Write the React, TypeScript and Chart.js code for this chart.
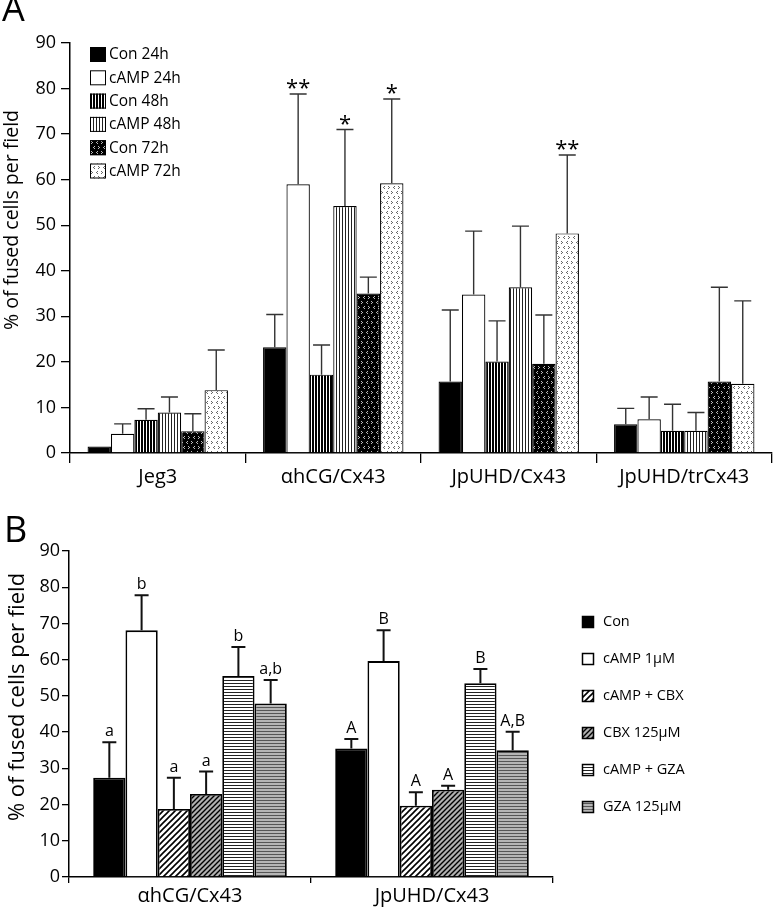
import React, { useEffect, useRef } from "react";
import { Chart, registerables } from "chart.js";
Chart.register(...registerables);

const FONT = "'Open Sans', sans-serif";

// ---------- Panel A data ----------
const catsA = ["Jeg3", "\u03b1hCG/Cx43", "JpUHD/Cx43", "JpUHD/trCx43"];
const seriesA = ["Con 24h", "cAMP 24h", "Con 48h", "cAMP 48h", "Con 72h", "cAMP 72h"];
const con24 = [1.4, 23.2, 15.7, 6.3];
const con24Top = [1.4, 30.4, 31.4, 9.8];
const camp24 = [4.2, 59.0, 34.8, 7.4];
const camp24Top = [6.4, 78.8, 48.7, 12.3];
const con48 = [7.3, 17.2, 20.1, 4.9];
const con48Top = [9.7, 23.7, 29.0, 10.7];
const camp48 = [8.9, 54.2, 36.4, 4.9];
const camp48Top = [12.3, 71.0, 49.8, 8.9];
const con72 = [4.8, 35.0, 19.6, 15.7];
const con72Top = [8.6, 38.6, 30.3, 36.4];
const camp72 = [13.8, 59.2, 48.2, 15.2];
const camp72Top = [22.6, 77.7, 65.4, 33.4];
const con24Marks = ["", "", "", ""];
const camp24Marks = ["", "**", "", ""];
const con48Marks = ["", "", "", ""];
const camp48Marks = ["", "*", "", ""];
const con72Marks = ["", "", "", ""];
const camp72Marks = ["", "*", "**", ""];
const yTicksA = [0, 10, 20, 30, 40, 50, 60, 70, 80, 90];

// ---------- Panel B data ----------
const catsB = ["\u03b1hCG/Cx43", "JpUHD/Cx43"];
const seriesB = ["Con", "cAMP 1\u03bcM", "cAMP + CBX", "CBX 125\u03bcM", "cAMP + GZA", "GZA 125\u03bcM"];
const conB = [27.4, 35.5];
const conBTop = [37.2, 38.1];
const campB = [68.1, 59.6];
const campBTop = [77.8, 68.1];
const campCbxB = [18.8, 19.7];
const campCbxBTop = [27.4, 23.4];
const cbxB = [22.9, 24.1];
const cbxBTop = [29.1, 25.2];
const campGzaB = [55.5, 53.5];
const campGzaBTop = [63.5, 57.4];
const gzaB = [47.9, 35.0];
const gzaBTop = [54.4, 40.1];
const conBMarks = ["a", "A"];
const campBMarks = ["b", "B"];
const campCbxBMarks = ["a", "A"];
const cbxBMarks = ["a", "A"];
const campGzaBMarks = ["b", "B"];
const gzaBMarks = ["a,b", "A,B"];
const yTicksB = [0, 10, 20, 30, 40, 50, 60, 70, 80, 90];

// ---------- patterns ----------
function makePattern(w: number, h: number, draw: (c: CanvasRenderingContext2D) => void): CanvasPattern | string {
  const c = document.createElement("canvas");
  c.width = w;
  c.height = h;
  const x = c.getContext("2d")!;
  draw(x);
  return x.createPattern(c, "repeat") || "#888";
}

function chev(x: CanvasRenderingContext2D, px: number, py: number, right: boolean) {
  if (right) {
    x.fillRect(px, py, 1, 1);
    x.fillRect(px + 1, py + 1, 1, 1);
    x.fillRect(px, py + 2, 1, 1);
  } else {
    x.fillRect(px + 1, py, 1, 1);
    x.fillRect(px, py + 1, 1, 1);
    x.fillRect(px + 1, py + 2, 1, 1);
  }
}

function buildPatterns() {
  const vDark = makePattern(3, 4, (x) => {
    x.fillStyle = "#000";
    x.fillRect(0, 0, 3, 4);
    x.fillStyle = "#fff";
    x.fillRect(2, 0, 1, 4);
  });
  const vLight = makePattern(3, 4, (x) => {
    x.fillStyle = "#fff";
    x.fillRect(0, 0, 3, 4);
    x.fillStyle = "#222";
    x.fillRect(0, 0, 1, 4);
  });
  const dotsDark = makePattern(10, 10, (x) => {
    x.fillStyle = "#000";
    x.fillRect(0, 0, 10, 10);
    x.fillStyle = "#bbb";
    chev(x, 1, 1, true);
    chev(x, 6, 1, false);
    chev(x, 3, 6, false);
    chev(x, 8, 6, true);
  });
  const dotsLight = makePattern(10, 10, (x) => {
    x.fillStyle = "#fff";
    x.fillRect(0, 0, 10, 10);
    x.fillStyle = "#666";
    chev(x, 1, 1, true);
    chev(x, 6, 1, false);
    chev(x, 3, 6, false);
    chev(x, 8, 6, true);
  });
  const diag = (bg: string, n: number, lw: number) =>
    makePattern(n, n, (x) => {
      x.fillStyle = bg;
      x.fillRect(0, 0, n, n);
      x.strokeStyle = "#000";
      x.lineWidth = lw;
      x.beginPath();
      x.moveTo(-1, n + 1);
      x.lineTo(n + 1, -1);
      x.moveTo(-2, 2);
      x.lineTo(2, -2);
      x.moveTo(n - 2, n + 2);
      x.lineTo(n + 2, n - 2);
      x.stroke();
    });
  const horiz = (bg: string, fg: string) =>
    makePattern(4, 3, (x) => {
      x.fillStyle = bg;
      x.fillRect(0, 0, 4, 3);
      x.fillStyle = fg;
      x.fillRect(0, 0, 4, 1);
    });
  return {
    a: ["#000", "#fff", vDark, vLight, dotsDark, dotsLight],
    b: ["#000", "#fff", diag("#fff", 6, 1.6), diag("#b0b0b0", 5, 1.4), horiz("#fff", "#222"), horiz("#b5b5b5", "#555")],
  };
}

type PanelCfg = {
  cats: string[];
  series: string[];
  values: number[][];
  tops: number[][];
  marks: string[][];
  yTicks: number[];
  fills: (string | CanvasPattern)[];
  yAxisW: number;
  xAxisH: number;
  padTop: number;
  padRight: number;
  tickLenY: number;
  tickPadY: number;
  tickLenX: number;
  tickPadX: number;
  catFont: number;
  capW: number;
  errW: number;
  errColor: string;
  borderW: number;
  markFont: string;
  markOffset: number;
  decorate: (ctx: CanvasRenderingContext2D, fills: (string | CanvasPattern)[]) => void;
};

function makeChart(canvas: HTMLCanvasElement, p: PanelCfg) {
  const errPlugin = {
    id: "errbars",
    afterDatasetsDraw(chart: any) {
      const ctx: CanvasRenderingContext2D = chart.ctx;
      const ys = chart.scales.y;
      ctx.save();
      chart.data.datasets.forEach((ds: any, di: number) => {
        const meta = chart.getDatasetMeta(di);
        meta.data.forEach((bar: any, i: number) => {
          const v = ds.data[i];
          const t = p.tops[di][i];
          const x = bar.x;
          const yb = ys.getPixelForValue(v);
          const yt = ys.getPixelForValue(t);
          if (t > v) {
            ctx.strokeStyle = p.errColor;
            ctx.lineWidth = p.errW;
            ctx.beginPath();
            ctx.moveTo(x, yb);
            ctx.lineTo(x, yt);
            ctx.moveTo(x - p.capW / 2, yt);
            ctx.lineTo(x + p.capW / 2, yt);
            ctx.stroke();
          }
          const m = p.marks[di][i];
          if (m) {
            ctx.fillStyle = "#000";
            ctx.font = p.markFont;
            ctx.textAlign = "center";
            ctx.textBaseline = "alphabetic";
            ctx.fillText(m, x, yt + p.markOffset);
          }
        });
      });
      ctx.restore();
    },
    afterDraw(chart: any) {
      const ctx: CanvasRenderingContext2D = chart.ctx;
      ctx.save();
      p.decorate(ctx, p.fills);
      ctx.restore();
    },
  };

  return new Chart(canvas, {
    type: "bar",
    data: {
      labels: p.cats,
      datasets: p.series.map((s, i) => ({
        label: s,
        data: p.values[i],
        backgroundColor: p.fills[i] as any,
        borderColor: "#000",
        borderWidth: p.borderW,
        borderSkipped: "start",
        barPercentage: 1,
        categoryPercentage: 0.8,
      })),
    },
    options: {
      animation: false,
      responsive: false,
      maintainAspectRatio: false,
      devicePixelRatio: 1,
      layout: { padding: { top: p.padTop, right: p.padRight, left: 0, bottom: 0 } },
      plugins: { legend: { display: false }, tooltip: { enabled: false }, title: { display: false } },
      scales: {
        x: {
          type: "category",
          offset: true,
          grid: {
            offset: true,
            drawOnChartArea: false,
            drawTicks: true,
            tickLength: p.tickLenX,
            color: "#000",
            lineWidth: 1.3,
          },
          border: { display: true, color: "#000", width: 1.5 },
          ticks: { color: "#000", font: { family: FONT, size: p.catFont }, padding: p.tickPadX, maxRotation: 0 },
          afterFit: (s: any) => {
            s.height = p.xAxisH;
          },
        },
        y: {
          min: 0,
          max: 90,
          afterBuildTicks: (s: any) => {
            s.ticks = p.yTicks.map((v) => ({ value: v }));
          },
          grid: {
            drawOnChartArea: false,
            drawTicks: true,
            tickLength: p.tickLenY,
            color: "#000",
            lineWidth: 1.3,
          },
          border: { display: true, color: "#000", width: 1.5 },
          ticks: { color: "#000", font: { family: FONT, size: 18 }, padding: p.tickPadY },
          afterFit: (s: any) => {
            s.width = p.yAxisW;
          },
        },
      },
    } as any,
    plugins: [errPlugin as any],
  });
}

export default function App() {
  const refA = useRef<HTMLCanvasElement>(null);
  const refB = useRef<HTMLCanvasElement>(null);

  useEffect(() => {
    const pats = buildPatterns();
    const chartA = makeChart(refA.current!, {
      cats: catsA,
      series: seriesA,
      values: [con24, camp24, con48, camp48, con72, camp72],
      tops: [con24Top, camp24Top, con48Top, camp48Top, con72Top, camp72Top],
      marks: [con24Marks, camp24Marks, con48Marks, camp48Marks, con72Marks, camp72Marks],
      yTicks: yTicksA,
      fills: pats.a,
      yAxisW: 70,
      xAxisH: 47,
      padTop: 43,
      padRight: 2,
      tickLenY: 9,
      tickPadY: 5,
      tickLenX: 10,
      tickPadX: 2,
      catFont: 20,
      capW: 17,
      errW: 1.4,
      errColor: "#333",
      borderW: 1.2,
      markFont: `22px ${FONT}`,
      markOffset: 1,
      decorate: (ctx, fills) => {
        ctx.fillStyle = "#000";
        ctx.font = `36px ${FONT}`;
        ctx.textAlign = "left";
        ctx.textBaseline = "alphabetic";
        ctx.fillText("A", 2, 21);
        ctx.save();
        ctx.translate(12, 220);
        ctx.rotate(-Math.PI / 2);
        ctx.font = `19.5px ${FONT}`;
        ctx.textAlign = "center";
        ctx.textBaseline = "middle";
        ctx.fillText("% of fused cells per field", 0, 0);
        ctx.restore();
        seriesA.forEach((s, i) => {
          const y0 = 47 + i * 23.3;
          ctx.fillStyle = fills[i] as any;
          ctx.fillRect(90, y0, 16, 15);
          ctx.strokeStyle = "#000";
          ctx.lineWidth = 1;
          ctx.strokeRect(90.5, y0 + 0.5, 15, 14);
          ctx.fillStyle = "#000";
          ctx.font = `15.5px ${FONT}`;
          ctx.textAlign = "left";
          ctx.textBaseline = "middle";
          ctx.fillText(s, 109, y0 + 8);
        });
      },
    });

    const chartB = makeChart(refB.current!, {
      cats: catsB,
      series: seriesB,
      values: [conB, campB, campCbxB, cbxB, campGzaB, gzaB],
      tops: [conBTop, campBTop, campCbxBTop, cbxBTop, campGzaBTop, gzaBTop],
      marks: [conBMarks, campBMarks, campCbxBMarks, cbxBMarks, campGzaBMarks, gzaBMarks],
      yTicks: yTicksB,
      fills: pats.b,
      yAxisW: 69,
      xAxisH: 30,
      padTop: 51,
      padRight: 221,
      tickLenY: 7,
      tickPadY: 2,
      tickLenX: 6,
      tickPadX: 1,
      catFont: 20,
      capW: 14,
      errW: 2,
      errColor: "#111",
      borderW: 1.8,
      markFont: `16px ${FONT}`,
      markOffset: -6,
      decorate: (ctx, fills) => {
        ctx.fillStyle = "#000";
        ctx.font = `36px ${FONT}`;
        ctx.textAlign = "left";
        ctx.textBaseline = "alphabetic";
        ctx.fillText("B", 4, 42);
        ctx.save();
        ctx.translate(18, 197);
        ctx.rotate(-Math.PI / 2);
        ctx.font = `22px ${FONT}`;
        ctx.textAlign = "center";
        ctx.textBaseline = "middle";
        ctx.fillText("% of fused cells per field", 0, 0);
        ctx.restore();
        seriesB.forEach((s, i) => {
          const yc = 122 + i * 37;
          ctx.fillStyle = fills[i] as any;
          ctx.fillRect(582, yc - 6, 12, 12);
          ctx.strokeStyle = "#000";
          ctx.lineWidth = 1.5;
          ctx.strokeRect(582.5, yc - 5.5, 11, 11);
          ctx.fillStyle = "#000";
          ctx.font = `14.5px ${FONT}`;
          ctx.textAlign = "left";
          ctx.textBaseline = "middle";
          ctx.fillText(s, 603, yc);
        });
      },
    });

    return () => {
      chartA.destroy();
      chartB.destroy();
    };
  }, []);

  return (
    <div style={{ position: "absolute", left: 0, top: 0, width: 774, height: 907, background: "#fff" }}>
      <canvas
        ref={refA}
        width={774}
        height={500}
        style={{ position: "absolute", left: 0, top: 0, width: 774, height: 500 }}
      />
      <canvas
        ref={refB}
        width={774}
        height={407}
        style={{ position: "absolute", left: 0, top: 500, width: 774, height: 407 }}
      />
    </div>
  );
}
